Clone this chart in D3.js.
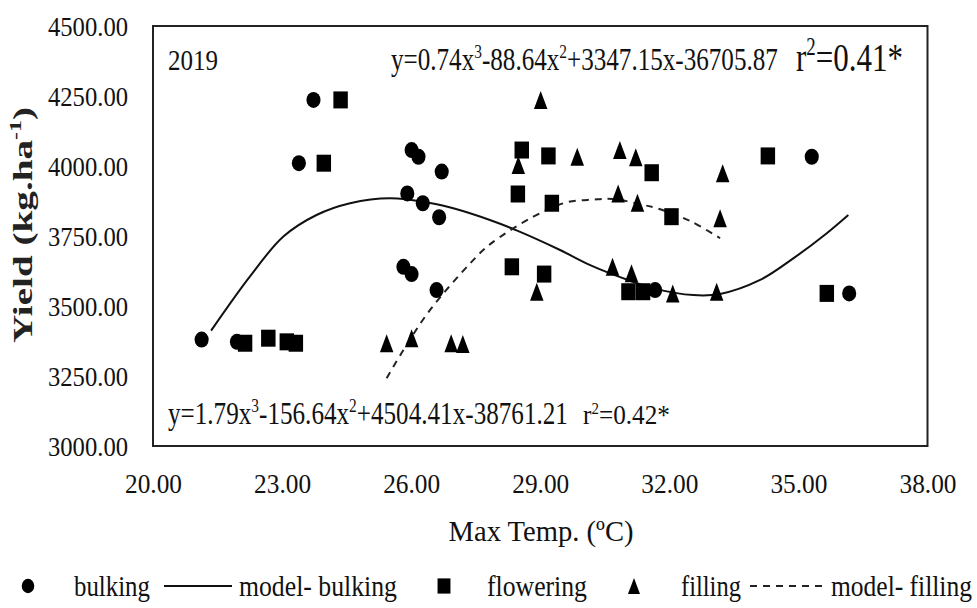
<!DOCTYPE html>
<html>
<head>
<meta charset="utf-8">
<script src="https://cdn.jsdelivr.net/npm/d3@7"></script>
<style>
  body { margin: 0; background: #fff; }
  svg { display: block; font-family: "Liberation Serif", "Times New Roman", serif; }
</style>
</head>
<body>
<div id="chart"></div>
<script>
// Observed yield by growth stage: [max temp (°C), yield (kg/ha)]
const bulking = [
  [21.13, 3380], [21.95, 3372], [23.73, 4236], [23.39, 4010], [26.01, 4057],
  [26.17, 4033], [26.71, 3980], [25.91, 3902], [26.27, 3867], [26.65, 3817],
  [25.82, 3640], [26.01, 3614], [26.59, 3557], [31.67, 3557], [35.31, 4033],
  [36.18, 3545]
];
const flowering = [
  [22.14, 3367], [22.68, 3385], [23.11, 3372], [23.32, 3367], [24.36, 4236],
  [23.97, 4010], [28.57, 4057], [29.19, 4036], [28.48, 3900], [29.27, 3867],
  [28.34, 3640], [29.09, 3614], [31.59, 3976], [32.05, 3819], [31.05, 3551],
  [31.39, 3551], [34.29, 4036], [35.66, 3545]
];
const filling = [
  [25.43, 3367], [26.01, 3385], [26.93, 3367], [27.20, 3364], [29.01, 4236],
  [28.49, 4004], [28.92, 3551], [29.86, 4033], [30.85, 4057], [31.22, 4031],
  [33.24, 3974], [30.81, 3902], [31.26, 3869], [33.18, 3813], [30.68, 3640],
  [31.12, 3617], [32.08, 3545], [33.10, 3551]
];

// Fitted curves
const modelBulking = [
  [21.35, 3412], [22.25, 3605], [23.03, 3748], [23.80, 3825], [24.58, 3867],
  [25.51, 3885], [26.44, 3868], [27.00, 3848], [27.83, 3807], [28.45, 3770],
  [29.46, 3700], [30.16, 3646], [31.09, 3590], [31.63, 3563], [32.56, 3539],
  [33.18, 3543], [34.11, 3593], [34.88, 3670], [35.66, 3760], [36.16, 3825]
];
const modelFilling = [
  [25.43, 3242], [25.82, 3343], [26.44, 3486], [27.37, 3652], [27.83, 3720],
  [28.84, 3819], [29.61, 3870], [30.23, 3880], [30.70, 3882], [31.39, 3861],
  [31.71, 3849], [32.48, 3804], [33.18, 3742]
];

const xTicks = [20, 23, 26, 29, 32, 35, 38];
const yTicks = [3000, 3250, 3500, 3750, 4000, 4250, 4500];

const W = 977, H = 608;
const margin = { top: 26, left: 153 };
const plotW = 774.5, plotH = 420;
const serif = '"Liberation Serif", "Times New Roman", serif';

const svg = d3.select("#chart").append("svg")
  .attr("width", W).attr("height", H);

const x = d3.scaleLinear().domain([20, 38]).range([margin.left, margin.left + plotW]);
const y = d3.scaleLinear().domain([3000, 4500]).range([margin.top + plotH, margin.top]);

// squeeze a text horizontally to a target width
function fit(sel, tx, ty, w, rot) {
  const len = sel.node().getComputedTextLength();
  const k = w / len;
  sel.attr("transform", `translate(${tx},${ty})` + (rot ? ` rotate(${rot})` : "") + ` scale(${k},1)`);
}

// Frame
svg.append("rect")
  .attr("x", margin.left).attr("y", margin.top)
  .attr("width", plotW).attr("height", plotH)
  .attr("fill", "none").attr("stroke", "#222").attr("stroke-width", 2);

// Axes
svg.append("g")
  .attr("transform", `translate(${margin.left},0)`)
  .call(d3.axisLeft(y).tickValues(yTicks).tickFormat(d3.format(".2f")).tickSize(0).tickPadding(25))
  .call(g => g.select(".domain").remove())
  .attr("font-family", serif).attr("font-size", 28)
  .selectAll("text")
  .attr("fill", "#111")
  .attr("dy", "0.34em")
  .attr("textLength", 80).attr("lengthAdjust", "spacingAndGlyphs");

svg.append("g")
  .attr("transform", `translate(0,${margin.top + plotH})`)
  .call(d3.axisBottom(x).tickValues(xTicks).tickFormat(d3.format(".2f")).tickSize(0).tickPadding(27))
  .call(g => g.select(".domain").remove())
  .attr("font-family", serif).attr("font-size", 28)
  .selectAll("text")
  .attr("fill", "#111")
  .attr("textLength", 57).attr("lengthAdjust", "spacingAndGlyphs");

// Axis titles
const xt = svg.append("text")
  .attr("font-size", 30).attr("fill", "#111")
  .attr("text-anchor", "middle")
  .text("Max Temp. (ºC)");
fit(xt, 541, 541, 185);

const yt = svg.append("text")
  .attr("font-size", 28).attr("font-weight", "bold").attr("fill", "#222")
  .attr("text-anchor", "middle");
yt.append("tspan").text("Yield (kg.ha");
yt.append("tspan").attr("font-size", 17).attr("dy", -11).text("-1");
yt.append("tspan").attr("dy", 11).text(")");
fit(yt, 32, 225, 236, -90);

// Model curves
const line = d3.line()
  .x(d => x(d[0]))
  .y(d => y(d[1]))
  .curve(d3.curveCatmullRom.alpha(0.5));

svg.append("path")
  .datum(modelBulking)
  .attr("d", line)
  .attr("fill", "none").attr("stroke", "#111").attr("stroke-width", 2);

svg.append("path")
  .datum(modelFilling)
  .attr("d", line)
  .attr("fill", "none").attr("stroke", "#222").attr("stroke-width", 2)
  .attr("stroke-dasharray", "7,6");

// Markers
const marker = {
  bulking:   { type: d3.symbolCircle,   size: 201, sx: 0.88, dy: 0 },
  flowering: { type: d3.symbolSquare,   size: 289, sx: 0.85, dy: 0 },
  filling:   { type: d3.symbolTriangle, size: 187, sx: 0.65, dy: 3 }
};

function drawPoints(data, key) {
  const m = marker[key];
  svg.append("g").selectAll("path")
    .data(data)
    .join("path")
    .attr("d", d3.symbol().type(m.type).size(m.size))
    .attr("transform", d => `translate(${x(d[0])},${y(d[1]) + m.dy}) scale(${m.sx},1)`)
    .attr("fill", "#000");
}
drawPoints(bulking, "bulking");
drawPoints(flowering, "flowering");
drawPoints(filling, "filling");

// Labels inside the plot
const yr = svg.append("text").attr("font-size", 30).attr("fill", "#111").text("2019");
fit(yr, 168, 70, 50);

function equation(parts, fs, tx, ty, w) {
  const t = svg.append("text").attr("font-size", fs).attr("fill", "#111");
  const up = Math.round(fs * 0.38);
  parts.forEach((p, i) => {
    if (i % 2 === 0) {
      t.append("tspan").attr("dy", i === 0 ? 0 : up).text(p);
    } else {
      t.append("tspan").attr("font-size", Math.round(fs * 0.6)).attr("dy", -up).text(p);
    }
  });
  fit(t, tx, ty, w);
}

equation(["y=0.74x", "3", "-88.64x", "2", "+3347.15x-36705.87"], 31, 391, 70, 387);
equation(["r", "2", "=0.41*"], 41, 796, 71, 107);
equation(["y=1.79x", "3", "-156.64x", "2", "+4504.41x-38761.21"], 31, 168, 424, 400);
equation(["r", "2", "=0.42*"], 27, 583, 424, 87);

// Legend
const legY = 586;
const lg = svg.append("g");

function legendText(label, x0, w) {
  const t = lg.append("text").attr("font-size", 30).attr("fill", "#111").text(label);
  fit(t, x0, legY + 10, w);
}
function legendMarker(key, cx) {
  const m = marker[key];
  lg.append("path")
    .attr("d", d3.symbol().type(m.type).size(m.size * 0.8))
    .attr("transform", `translate(${cx},${legY + m.dy * 0.9}) scale(${m.sx},1)`)
    .attr("fill", "#000");
}

legendMarker("bulking", 28);
legendText("bulking", 74, 76);
lg.append("line").attr("x1", 164).attr("x2", 232).attr("y1", legY).attr("y2", legY)
  .attr("stroke", "#111").attr("stroke-width", 2);
legendText("model- bulking", 239, 158);
legendMarker("flowering", 444);
legendText("flowering", 487, 100);
legendMarker("filling", 634);
legendText("filling", 681, 60);
lg.append("line").attr("x1", 750).attr("x2", 828).attr("y1", legY).attr("y2", legY)
  .attr("stroke", "#222").attr("stroke-width", 2).attr("stroke-dasharray", "7,6");
legendText("model- filling", 831, 141);
</script>
</body>
</html>
